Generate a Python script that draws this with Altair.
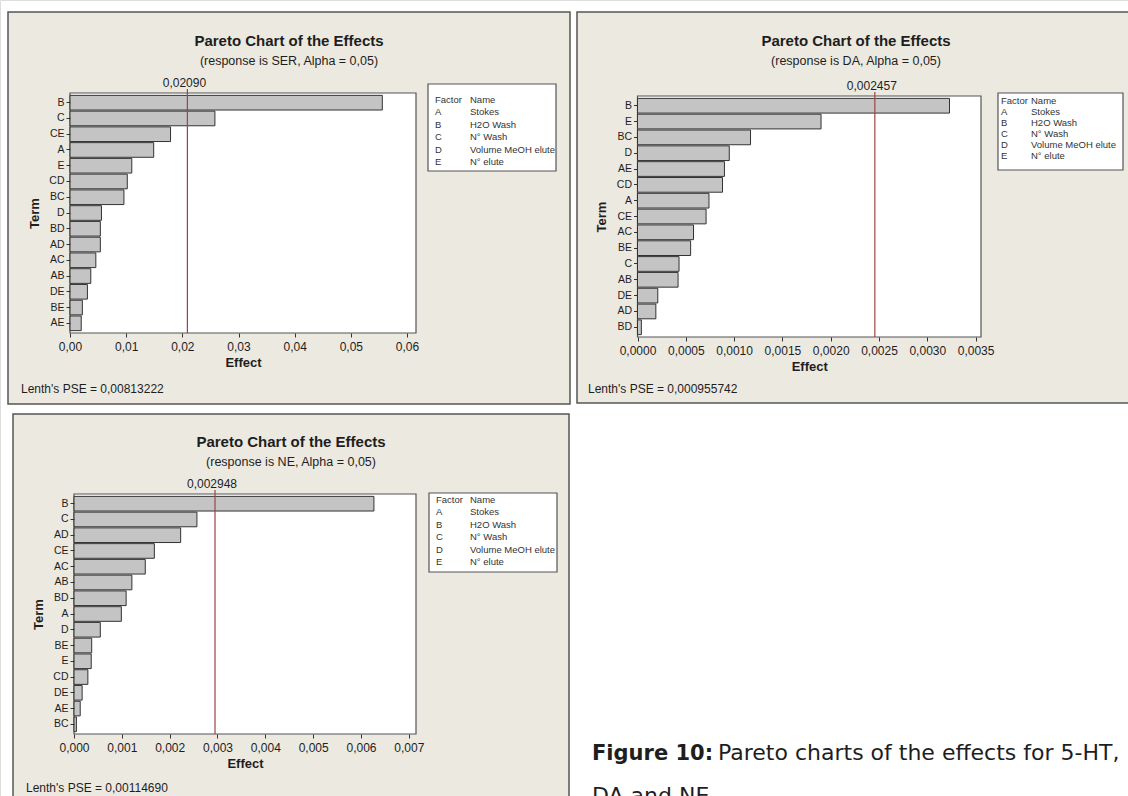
import altair as alt
import pandas as pd

W, H = 1128, 796

# ---------------------------------------------------------------- data
responses = ["SER", "DA", "NE"]
alpha = "0,05"

ser_terms = ["B", "C", "CE", "A", "E", "CD", "BC", "D", "BD", "AD", "AC", "AB", "DE", "BE", "AE"]
ser_effects = [0.0556, 0.0258, 0.0179, 0.0149, 0.0110, 0.0102, 0.0096, 0.0056, 0.0054, 0.0054,
               0.0046, 0.0037, 0.0031, 0.0022, 0.0020]
ser_limit = 0.02090
ser_pse = 0.00813222

da_terms = ["B", "E", "BC", "D", "AE", "CD", "A", "CE", "AC", "BE", "C", "AB", "DE", "AD", "BD"]
da_effects = [0.00323, 0.00190, 0.00117, 0.00095, 0.00090, 0.00088, 0.00074, 0.00071, 0.00058,
              0.00055, 0.00043, 0.00042, 0.00021, 0.00019, 0.00004]
da_limit = 0.002457
da_pse = 0.000955742

ne_terms = ["B", "C", "AD", "CE", "AC", "AB", "BD", "A", "D", "BE", "E", "CD", "DE", "AE", "BC"]
ne_effects = [0.00627, 0.00257, 0.00223, 0.00168, 0.00149, 0.00121, 0.00109, 0.00099, 0.00055,
              0.00037, 0.00036, 0.00029, 0.00017, 0.00013, 0.00005]
ne_limit = 0.002948
ne_pse = 0.00114690

factor_codes = ["A", "B", "C", "D", "E"]
factor_names = ["Stokes", "H2O Wash", "N° Wash", "Volume MeOH elute", "N° elute"]

ser_ticks = [0.00, 0.01, 0.02, 0.03, 0.04, 0.05, 0.06]
da_ticks = [0.0000, 0.0005, 0.0010, 0.0015, 0.0020, 0.0025, 0.0030, 0.0035]
ne_ticks = [0.000, 0.001, 0.002, 0.003, 0.004, 0.005, 0.006, 0.007]

caption_bold = "Figure 10:"
caption_rest = "Pareto charts of the effects for 5-HT,"
caption_line2 = "DA and NE"

# ---------------------------------------------------------------- style
FONT = "Liberation Sans"
BEIGE = "#ECE9E0"
FRAME = "#555555"
BAR = "#C4C4C4"
EDGE = "#333333"
LIMIT = "#9E4545"
INK = "#1E1E1E"

ONE = pd.DataFrame({"k": [0]})


def comma(value, decimals):
    return f"{value:.{decimals}f}".replace(".", ",")


def box(x0, x1, y0, y1, fill, stroke, sw=1.0):
    return alt.Chart(ONE).mark_rect(fill=fill, stroke=stroke, strokeWidth=sw).encode(
        x=alt.value(x0), x2=alt.value(x1), y=alt.value(y0), y2=alt.value(y1))


def label(text, x, y, size, weight="normal", align="left", font=FONT, color=INK, baseline="middle", **kw):
    return alt.Chart(ONE).mark_text(
        text=text, font=font, fontSize=size, fontWeight=weight, align=align,
        baseline=baseline, color=color, **kw
    ).encode(x=alt.value(x), y=alt.value(y))


def effects_panel(terms, effects, limit, limit_dec, dmax, ticks, tick_dec, px0, px1, py0, py1):
    df = pd.DataFrame({"Term": terms, "Effect": effects})
    lim = pd.DataFrame({"limit": [limit], "text": [comma(limit, limit_dec)]})
    xscale = alt.Scale(domain=[0, dmax], range=[px0, px1], nice=False, zero=True)
    yscale = alt.Scale(domain=terms, range=[py0, py1], paddingInner=0.07, paddingOuter=0.15)
    xaxis = alt.Axis(orient="bottom", offset=py1 - H, values=ticks, zindex=2,
                     labelExpr=f"replace(format(datum.value, '.{tick_dec}f'), '.', ',')",
                     title="Effect", grid=False, domain=False, labelFlush=False,
                     labelOverlap=False, tickSize=4, tickColor=EDGE, labelPadding=4,
                     labelFontSize=12, labelColor=INK, titleFontSize=13,
                     titleFontWeight="bold", titleColor=INK, titlePadding=4,
                     labelFont=FONT, titleFont=FONT)
    yaxis = alt.Axis(orient="left", offset=-px0, title="Term", titleX=-29, zindex=2,
                     domain=False, tickSize=4, tickColor=EDGE, labelPadding=2,
                     labelFontSize=10.5, labelColor=INK, titleFontSize=13,
                     titleFontWeight="bold", titleColor=INK,
                     labelFont=FONT, titleFont=FONT)

    bars = alt.Chart(df).mark_bar(fill=BAR, stroke=EDGE, strokeWidth=1).encode(
        x=alt.X("Effect:Q", scale=xscale, axis=xaxis),
        y=alt.Y("Term:N", scale=yscale, axis=yaxis),
    )
    rule = alt.Chart(lim).mark_rule(color=LIMIT, strokeWidth=1.2).encode(
        x=alt.X("limit:Q", scale=xscale, axis=xaxis),
        y=alt.value(py0 - 4), y2=alt.value(py1))
    text = alt.Chart(lim).mark_text(font=FONT, fontSize=12, color=INK, align="center",
                                    baseline="middle", dx=-3).encode(
        x=alt.X("limit:Q", scale=xscale, axis=xaxis), y=alt.value(py0 - 10), text="text:N")
    return alt.layer(bars, rule, text)


def legend_block(x0, x1, y0, y1, tx, nx, ty, step):
    letters = "\n".join(["Factor"] + factor_codes)
    names = "\n".join(["Name"] + factor_names)
    return [
        box(x0, x1, y0, y1, "white", FRAME, 1.2),
        label(letters, tx, ty, 9.5, baseline="top", lineBreak="\n", lineHeight=step, color="#333333"),
        label(names, nx, ty, 9.5, baseline="top", lineBreak="\n", lineHeight=step, color="#333333"),
    ]


def headings(cx, y, response):
    return [
        label("Pareto Chart of the Effects", cx, y, 15, weight="bold", align="center"),
        label(f"(response is {response}, Alpha = {alpha})", cx, y + 20, 12.5, align="center"),
    ]


# ---------------------------------------------------------------- panels
frames = [
    box(8, 570, 12, 404, BEIGE, FRAME, 1.5),
    box(577, 1140, 12, 403, BEIGE, FRAME, 1.5),
    box(13, 569, 414, 820, BEIGE, FRAME, 1.5),
    box(70, 416, 93, 333, "white", FRAME, 1.2),
    box(637.5, 981, 96, 337, "white", FRAME, 1.2),
    box(74, 416, 494, 734, "white", FRAME, 1.2),
]

p1 = effects_panel(ser_terms, ser_effects, ser_limit, 5, 0.0616, ser_ticks, 2, 70, 416, 93, 333)
p2 = effects_panel(da_terms, da_effects, da_limit, 6, 0.003556, da_ticks, 4, 637.5, 981, 96, 337)
p3 = effects_panel(ne_terms, ne_effects, ne_limit, 6, 0.00715, ne_ticks, 3, 74, 416, 494, 734)

extras = []
extras += headings(289, 41, responses[0])
extras += headings(856, 41, responses[1])
extras += headings(291, 442, responses[2])
extras += legend_block(428, 556, 84, 171, 435, 470, 95, 12.4)
extras += legend_block(998, 1123, 93, 170, 1001, 1031, 96, 10.9)
extras += legend_block(429, 557, 493, 572, 436, 470, 495, 12.4)
extras += [
    label(f"Lenth's PSE = {comma(ser_pse, 8)}", 21, 389, 12),
    label(f"Lenth's PSE = {comma(da_pse, 9)}", 588, 389, 12),
    label(f"Lenth's PSE = {comma(ne_pse, 8)}", 26, 788, 12),
    label(caption_bold, 592, 760, 21, weight="bold", font="DejaVu Sans", baseline="alphabetic"),
    label(caption_rest, 718, 760, 22, font="DejaVu Sans", baseline="alphabetic"),
    label(caption_line2, 592, 803, 22, font="DejaVu Sans", baseline="alphabetic"),
]

chart = alt.layer(*frames, p1, p2, p3, *extras).resolve_scale(
    x="independent", y="independent"
).properties(
    width=W, height=H, padding=0, autosize=alt.AutoSizeParams(type="none"),
    background="white",
).configure_view(stroke=None).configure(font=FONT)

chart.save("out.html", embed_options={"renderer": "svg", "actions": False})
